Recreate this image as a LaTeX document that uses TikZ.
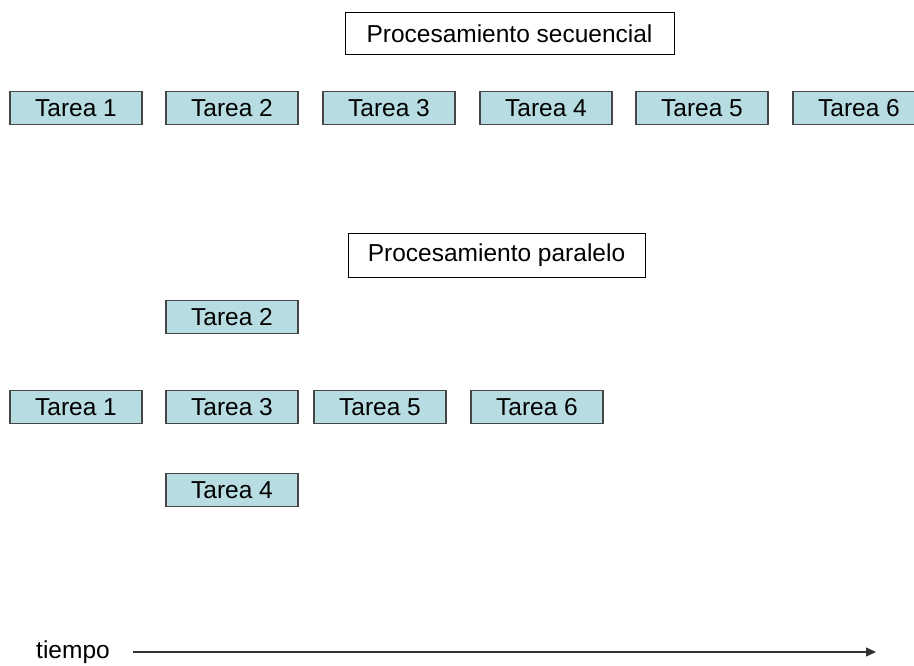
\documentclass[tikz,border=0pt]{standalone}
\usepackage{fontspec}
\setmainfont{Liberation Sans}
\usetikzlibrary{arrows.meta}
\definecolor{taskfill}{RGB}{183,221,226}
\definecolor{taskline}{RGB}{70,70,70}
\definecolor{arrowline}{RGB}{50,50,50}
\begin{document}
\begin{tikzpicture}[x=1pt,y=-1pt,
  font=\fontsize{24.5}{28}\selectfont,
  task/.style={draw=taskline, line width=1.3pt, fill=taskfill, minimum width=132pt, minimum height=33pt, inner sep=0pt},
  titlebox/.style={draw=black, line width=0.9pt, fill=white, minimum height=42pt, inner sep=0pt}]
\useasboundingbox (0,0) rectangle (914,665);
\clip (0,0) rectangle (914,665);
% sequential
\node[titlebox, minimum width=329pt] (tseq) at (509.5,33.5) {Procesamiento secuencial};
\node[task] (s1) at (76,108) {Tarea 1};
\node[task] (s2) at (232,108) {Tarea 2};
\node[task] (s3) at (389,108) {Tarea 3};
\node[task] (s4) at (546,108) {Tarea 4};
\node[task] (s5) at (702,108) {Tarea 5};
\node[task] (s6) at (859,108) {Tarea 6};
% parallel
\node[titlebox, minimum width=297pt, minimum height=44pt] (tpar) at (496.5,255) {Procesamiento paralelo};
\node[task] (p2) at (232,317) {Tarea 2};
\node[task] (p1) at (76,407) {Tarea 1};
\node[task] (p3) at (232,407) {Tarea 3};
\node[task] (p5) at (380,407) {Tarea 5};
\node[task] (p6) at (537,407) {Tarea 6};
\node[task] (p4) at (232,490) {Tarea 4};
% time axis
\node[anchor=base, inner sep=0pt] (tiempo) at (73,658) {tiempo};
\coordinate (ta) at (133,652);
\coordinate (tb) at (876,652);
\draw[arrowline, line width=1.2pt, -{Triangle[length=10pt,width=9pt]}] (ta) -- (tb);
\end{tikzpicture}
\end{document}
